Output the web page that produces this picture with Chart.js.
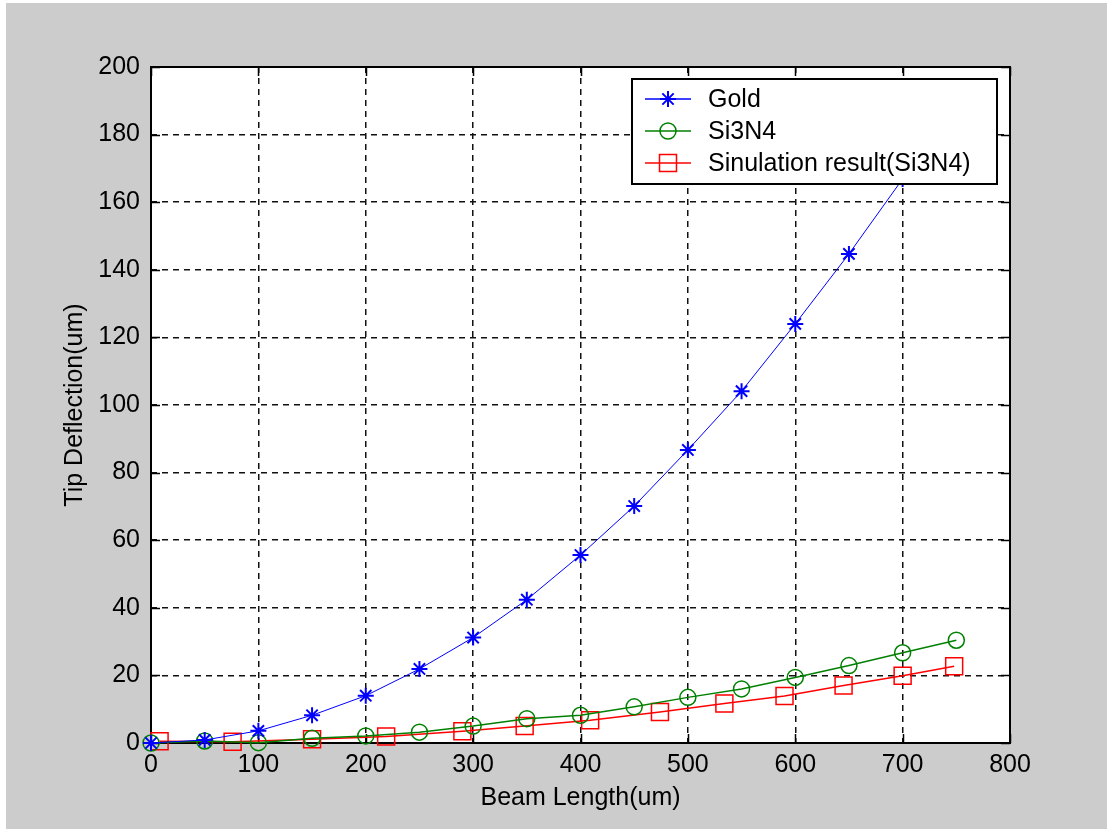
<!DOCTYPE html>
<html><head><meta charset="utf-8">
<script src="https://cdn.jsdelivr.net/npm/chart.js@4/dist/chart.umd.min.js"></script>
<style>
html,body{margin:0;padding:0;background:#fff;width:1107px;height:829px;overflow:hidden}
#wrap{position:absolute;left:6px;top:3px;width:1101px;height:826px;background:#cccccc}
</style></head><body>
<div id="wrap"><canvas id="c"></canvas></div>
<script>
const seriesNames = ['Gold', 'Si3N4', 'Sinulation result(Si3N4)'];
const goldX = [0, 50, 100, 150, 200, 250, 300, 350, 400, 450, 500, 550, 600, 650, 700];
const goldY = [0, 0.9, 3.6, 8.2, 14.0, 21.9, 31.2, 42.4, 55.6, 70.1, 86.7, 104.1, 124.0, 144.7, 166.9];
const siX = [0, 50, 100, 150, 200, 250, 300, 350, 400, 450, 500, 550, 600, 650, 700, 750];
const siY = [0, 0.6, 0.1, 1.4, 2.1, 3.2, 5.0, 7.2, 8.2, 10.7, 13.5, 16.0, 19.4, 22.9, 26.7, 30.4];
const simX = [8, 76, 150, 219, 290, 348, 409, 474, 534, 590, 645, 700, 748];
const simY = [0.5, 0.4, 1.1, 1.9, 3.5, 5.0, 6.7, 9.2, 11.7, 13.9, 17.0, 19.9, 22.7];
const xTicks = [0, 100, 200, 300, 400, 500, 600, 700, 800];
const yTicks = [0, 20, 40, 60, 80, 100, 120, 140, 160, 180, 200];
const xTitle = 'Beam Length(um)';
const yTitle = 'Tip Deflection(um)';

const FONT = '"Liberation Sans", Arial, sans-serif';
const pts = (xs, ys) => xs.map((x, i) => ({x: x, y: ys[i]}));

function drawMarker(ctx, style, x, y, r) {
  ctx.beginPath();
  if (style === 'star') {
    ctx.moveTo(x - r, y); ctx.lineTo(x + r, y);
    ctx.moveTo(x, y - r); ctx.lineTo(x, y + r);
    const d = r * Math.SQRT1_2;
    ctx.moveTo(x - d, y - d); ctx.lineTo(x + d, y + d);
    ctx.moveTo(x - d, y + d); ctx.lineTo(x + d, y - d);
  } else if (style === 'circle') {
    ctx.arc(x, y, r, 0, Math.PI * 2);
  } else if (style === 'rect') {
    const s = r * Math.SQRT1_2;
    ctx.rect(x - s, y - s, 2 * s, 2 * s);
  }
  ctx.stroke();
}

const bgPlugin = {
  id: 'bg',
  beforeDraw(chart) {
    const {ctx, chartArea: ca} = chart;
    ctx.save();
    ctx.fillStyle = '#ffffff';
    ctx.fillRect(ca.left, ca.top, ca.right - ca.left, ca.bottom - ca.top);
    ctx.restore();
  },
  beforeDatasetsDraw(chart) {
    const {ctx, chartArea: ca, scales} = chart;
    ctx.save();
    ctx.strokeStyle = '#000';
    ctx.lineWidth = 1.5;
    const tl = 9;
    ctx.beginPath();
    xTicks.forEach(v => {
      const px = Math.round(scales.x.getPixelForValue(v)) + 0.5;
      ctx.moveTo(px, ca.bottom); ctx.lineTo(px, ca.bottom - tl);
      ctx.moveTo(px, ca.top); ctx.lineTo(px, ca.top + tl);
    });
    yTicks.forEach(v => {
      const py = Math.round(scales.y.getPixelForValue(v)) + 0.5;
      ctx.moveTo(ca.left, py); ctx.lineTo(ca.left + tl, py);
      ctx.moveTo(ca.right, py); ctx.lineTo(ca.right - tl, py);
    });
    ctx.stroke();
    ctx.lineWidth = 2;
    ctx.strokeRect(ca.left, ca.top, ca.right - ca.left, ca.bottom - ca.top);
    ctx.restore();
  },
  afterDraw(chart) {
    const {ctx, chartArea: ca} = chart;
    const w = 365, h = 105;
    const right = ca.right - 13, top = ca.top + 12, left = right - w;
    ctx.save();
    ctx.fillStyle = '#fff';
    ctx.fillRect(left, top, w, h);
    ctx.strokeStyle = '#000';
    ctx.lineWidth = 2;
    ctx.strokeRect(left, top, w, h);
    chart.data.datasets.forEach((ds, i) => {
      const y = top + 20 + i * 32;
      ctx.strokeStyle = ds.borderColor;
      ctx.lineWidth = 1.5;
      ctx.beginPath(); ctx.moveTo(left + 13, y); ctx.lineTo(left + 59, y); ctx.stroke();
      ctx.lineWidth = ds.pointBorderWidth;
      drawMarker(ctx, ds.pointStyle, left + 36, y, ds.pointRadius);
      ctx.fillStyle = '#000';
      ctx.font = '25px ' + FONT;
      ctx.textBaseline = 'middle';
      ctx.textAlign = 'left';
      ctx.fillText(ds.label, left + 76, y + 1);
    });
    ctx.restore();
  }
};

const gridColor = (n) => (c) => (c.index > 0 && c.index < n - 1) ? '#111' : 'rgba(0,0,0,0)';

new Chart(document.getElementById('c'), {
  type: 'line',
  data: {
    datasets: [
      {label: seriesNames[0], data: pts(goldX, goldY), borderColor: '#0000ff', borderWidth: 1,
       pointStyle: 'star', pointRadius: 8, pointBorderWidth: 2, pointBorderColor: '#0000ff',
       pointBackgroundColor: 'rgba(0,0,0,0)', fill: false, tension: 0, clip: false},
      {label: seriesNames[1], data: pts(siX, siY), borderColor: '#008000', borderWidth: 1.5,
       pointStyle: 'circle', pointRadius: 8, pointBorderWidth: 1.5, pointBorderColor: '#008000',
       pointBackgroundColor: 'rgba(0,0,0,0)', fill: false, tension: 0, clip: false},
      {label: seriesNames[2], data: pts(simX, simY), borderColor: '#ff0000', borderWidth: 1.5,
       pointStyle: 'rect', pointRadius: 12, pointBorderWidth: 1.5, pointBorderColor: '#ff0000',
       pointBackgroundColor: 'rgba(0,0,0,0)', fill: false, tension: 0, clip: false}
    ]
  },
  options: {
    responsive: true,
    maintainAspectRatio: false,
    animation: false,
    events: [],
    layout: {padding: {left: 0, top: 64, right: 97, bottom: 0}},
    plugins: {legend: {display: false}, tooltip: {enabled: false}},
    scales: {
      x: {
        type: 'linear', min: 0, max: 800,
        afterBuildTicks: s => { s.ticks = xTicks.map(v => ({value: v})); },
        afterFit: s => { s.height = 86; },
        grid: {color: gridColor(xTicks.length), lineWidth: 1.5, drawTicks: false},
        border: {display: false, dash: [6, 5]},
        ticks: {padding: 7, color: '#000', font: {family: FONT, size: 25}, maxRotation: 0, autoSkip: false},
        title: {display: true, text: xTitle, color: '#000', font: {family: FONT, size: 25}, padding: {top: 0, bottom: 16}}
      },
      y: {
        type: 'linear', min: 0, max: 200,
        afterBuildTicks: s => { s.ticks = yTicks.map(v => ({value: v})); },
        afterFit: s => { s.width = 145; },
        grid: {color: gridColor(yTicks.length), lineWidth: 1.5, drawTicks: false},
        border: {display: false, dash: [6, 5]},
        ticks: {padding: 11, color: '#000', font: {family: FONT, size: 25}, autoSkip: false},
        title: {display: true, text: yTitle, color: '#000', font: {family: FONT, size: 25}, padding: {top: 54, bottom: 0}}
      }
    }
  },
  plugins: [bgPlugin]
});
</script>
</body></html>
